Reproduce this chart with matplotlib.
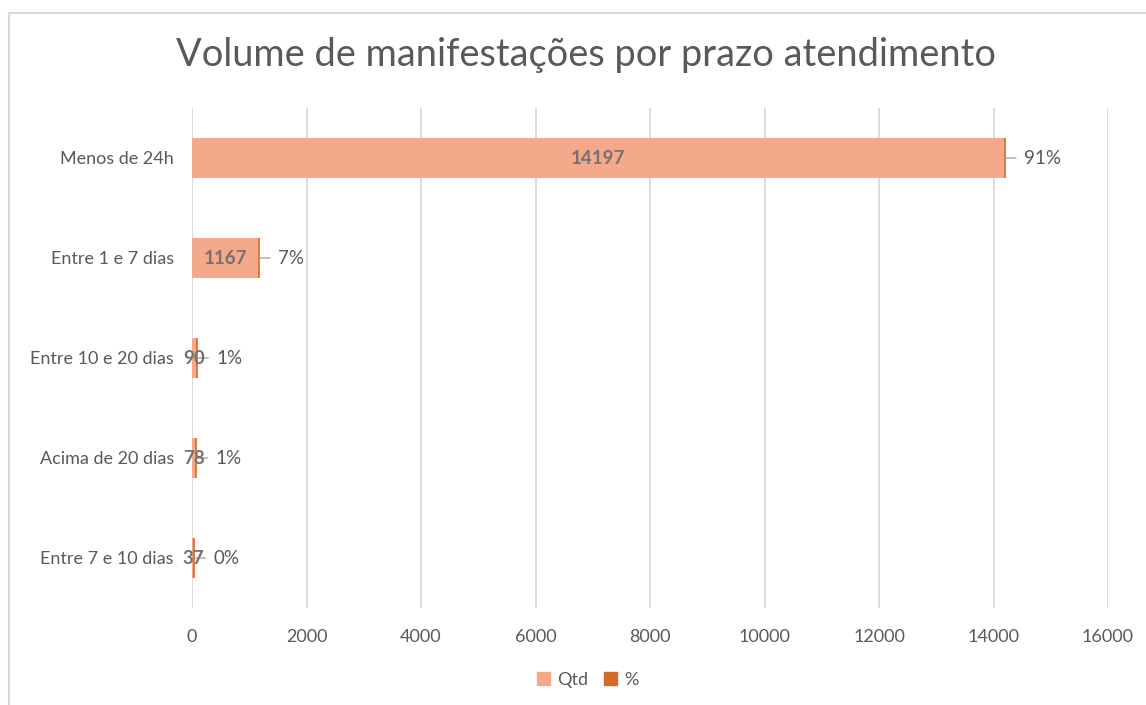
import matplotlib.pyplot as plt
from matplotlib.lines import Line2D
from matplotlib.patches import Patch

plt.rcParams['font.family'] = ['Lato', 'DejaVu Sans']

categories = ["Menos de 24h", "Entre 1 e 7 dias", "Entre 10 e 20 dias",
              "Acima de 20 dias", "Entre 7 e 10 dias"]
qtd = [14197, 1167, 90, 78, 37]
pct = [0.9119, 0.0749, 0.0058, 0.00501, 0.0024]
xticks = [0, 2000, 4000, 6000, 8000, 10000, 12000, 14000, 16000]

c_qtd = '#F4A98A'
c_pct = '#D56B2A'
grey = '#595959'

fig = plt.figure(figsize=(11.46, 7.05), dpi=100)
ax = fig.add_axes([192/1146, 1-608/705, (1108-192)/1146, 500/705])

y = list(range(len(categories)))
ax.barh(y, qtd, height=0.4, color=c_qtd, zorder=2)
ax.barh(y, pct, left=qtd, height=0.4, color=c_pct, edgecolor=c_pct,
        linewidth=1.2, zorder=3)

for yi, q, p in zip(y, qtd, pct):
    ax.text(q/2, yi, str(q), ha='center', va='center', fontsize=13.5,
            fontweight='bold', color='#767171', zorder=4)
    ax.annotate(f"{p:.0%}", xy=(q + p, yi), xytext=(14, 0),
                textcoords='offset points', ha='left', va='center',
                fontsize=13.5, color=grey,
                arrowprops=dict(arrowstyle='-', color='#A6A6A6', lw=1,
                                shrinkA=4, shrinkB=1))

ax.set_xlim(0, 16000)
ax.set_ylim(4.5, -0.5)
ax.set_xticks(xticks)
ax.set_yticks(y)
ax.set_yticklabels(categories)
ax.grid(axis='x', color='#D9D9D9', lw=1.3, zorder=0)
for s in ax.spines.values():
    s.set_visible(False)
ax.tick_params(length=0, colors=grey, labelsize=13)
ax.tick_params(axis='x', pad=15)
ax.tick_params(axis='y', pad=13)

fig.text(0.511, 1-55/705, "Volume de manifestações por prazo atendimento",
         ha='center', va='center', fontsize=27.4, color=grey)

handles = [Patch(color=c_qtd, label='Qtd'), Patch(color=c_pct, label='%')]
fig.legend(handles=handles, loc='center', bbox_to_anchor=(0.513, 1-680/705),
           ncol=2, frameon=False, fontsize=13, handlelength=0.7,
           handleheight=0.7, handletextpad=0.4, columnspacing=0.9,
           labelcolor=grey)

fig.add_artist(Line2D([9/1146, 1], [1-13/705, 1-13/705], color='#D9D9D9', lw=1.5))
fig.add_artist(Line2D([9/1146, 9/1146], [0, 1-13/705], color='#D9D9D9', lw=1.5))

fig.savefig('out.png', dpi=100)
